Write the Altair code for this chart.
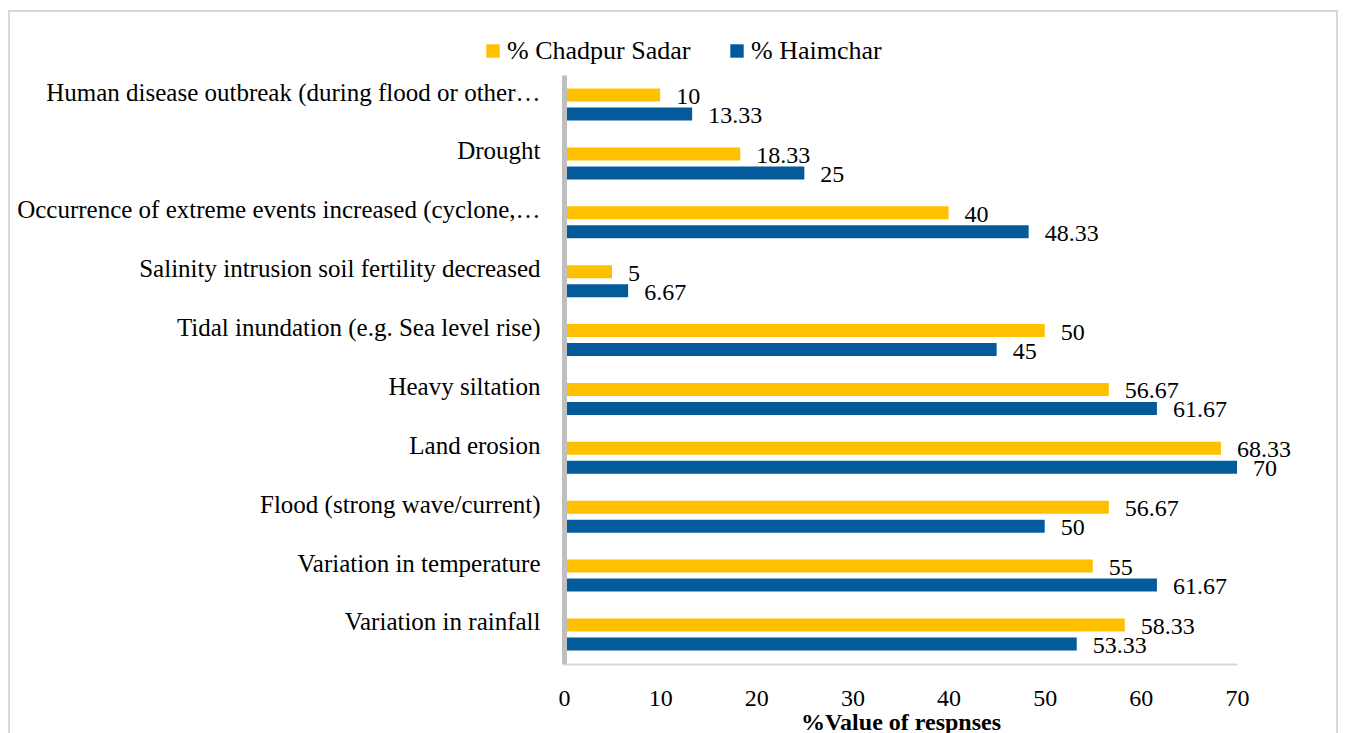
import altair as alt
import pandas as pd

categories = [
    "Human disease outbreak (during flood or other…",
    "Drought ",
    "Occurrence of  extreme events increased (cyclone,…",
    "Salinity intrusion soil fertility decreased",
    "Tidal inundation (e.g. Sea level rise)",
    "Heavy siltation",
    "Land erosion",
    "Flood (strong wave/current)",
    "Variation in temperature",
    "Variation in rainfall",
]
chadpur = [10, 18.33, 40, 5, 50, 56.67, 68.33, 56.67, 55, 58.33]
haimchar = [13.33, 25, 48.33, 6.67, 45, 61.67, 70, 50, 61.67, 53.33]
series_names = ["% Chadpur Sadar", "% Haimchar"]
colors = ["#FFC000", "#035B9B"]
x_ticks = [0, 10, 20, 30, 40, 50, 60, 70]

rows = []
for c, a, b in zip(categories, chadpur, haimchar):
    rows.append({"cat": c, "series": series_names[0], "value": a})
    rows.append({"cat": c, "series": series_names[1], "value": b})
df = pd.DataFrame(rows)

FONT = "Liberation Serif"

yenc = alt.Y(
    "cat:N",
    sort=categories,
    scale=alt.Scale(paddingInner=0.457, paddingOuter=0.23),
    axis=alt.Axis(
        title=None, ticks=False, labelPadding=24, labelOffset=-12,
        labelFontSize=25, labelLimit=800, labelColor="black", labelFont=FONT,
        domainColor="#BFBFBF", domainWidth=5, zindex=1,
    ),
)
yoff = alt.YOffset("series:N", sort=series_names, scale=alt.Scale(paddingInner=0.316))
xenc = alt.X(
    "value:Q",
    scale=alt.Scale(domain=[0, 70], nice=False),
    axis=alt.Axis(
        values=x_ticks, grid=False, ticks=False, domainColor="#D9D9D9",
        domainWidth=2, labelFontSize=24, labelPadding=22, labelColor="black",
        labelFont=FONT, labelFlush=False, title="%Value of respnses",
        titleFontSize=24, titleFontWeight="bold", titlePadding=0,
        titleFont=FONT, titleColor="black",
    ),
)
color = alt.Color(
    "series:N",
    sort=series_names,
    scale=alt.Scale(domain=series_names, range=colors),
    legend=alt.Legend(
        orient="none", direction="horizontal", legendX=-84, legendY=-37,
        title=None, symbolType="square", symbolSize=180, labelFontSize=26,
        labelFont=FONT, labelColor="black", columnPadding=33, labelLimit=400,
        symbolStrokeWidth=0, symbolOpacity=1, labelOffset=1,
    ),
)

bars = alt.Chart(df).mark_bar().encode(y=yenc, yOffset=yoff, x=xenc, color=color)
labels = alt.Chart(df).mark_text(
    align="left", baseline="middle", dx=16, dy=2, fontSize=24, font=FONT, color="black"
).encode(
    y=alt.Y("cat:N", sort=categories),
    yOffset=alt.YOffset("series:N", sort=series_names),
    x=alt.X("value:Q"),
    text=alt.Text("value:Q", format="~g"),
)
frame = alt.Chart(pd.DataFrame({"k": [0]})).mark_rect(
    fill=None, stroke="#D9D9D9", strokeWidth=2
).encode(
    x=alt.value(-555), x2=alt.value(773), y=alt.value(-64), y2=alt.value(760)
)

chart = alt.layer(frame, bars, labels).properties(
    width=673,
    height=589,
    autosize=alt.AutoSizeParams(type="none"),
    padding={"left": 556, "top": 67, "right": 101, "bottom": 80},
    background="white",
).configure(font=FONT).configure_view(stroke=None)

chart.save("out.html", embed_options={"renderer": "svg", "actions": False})
